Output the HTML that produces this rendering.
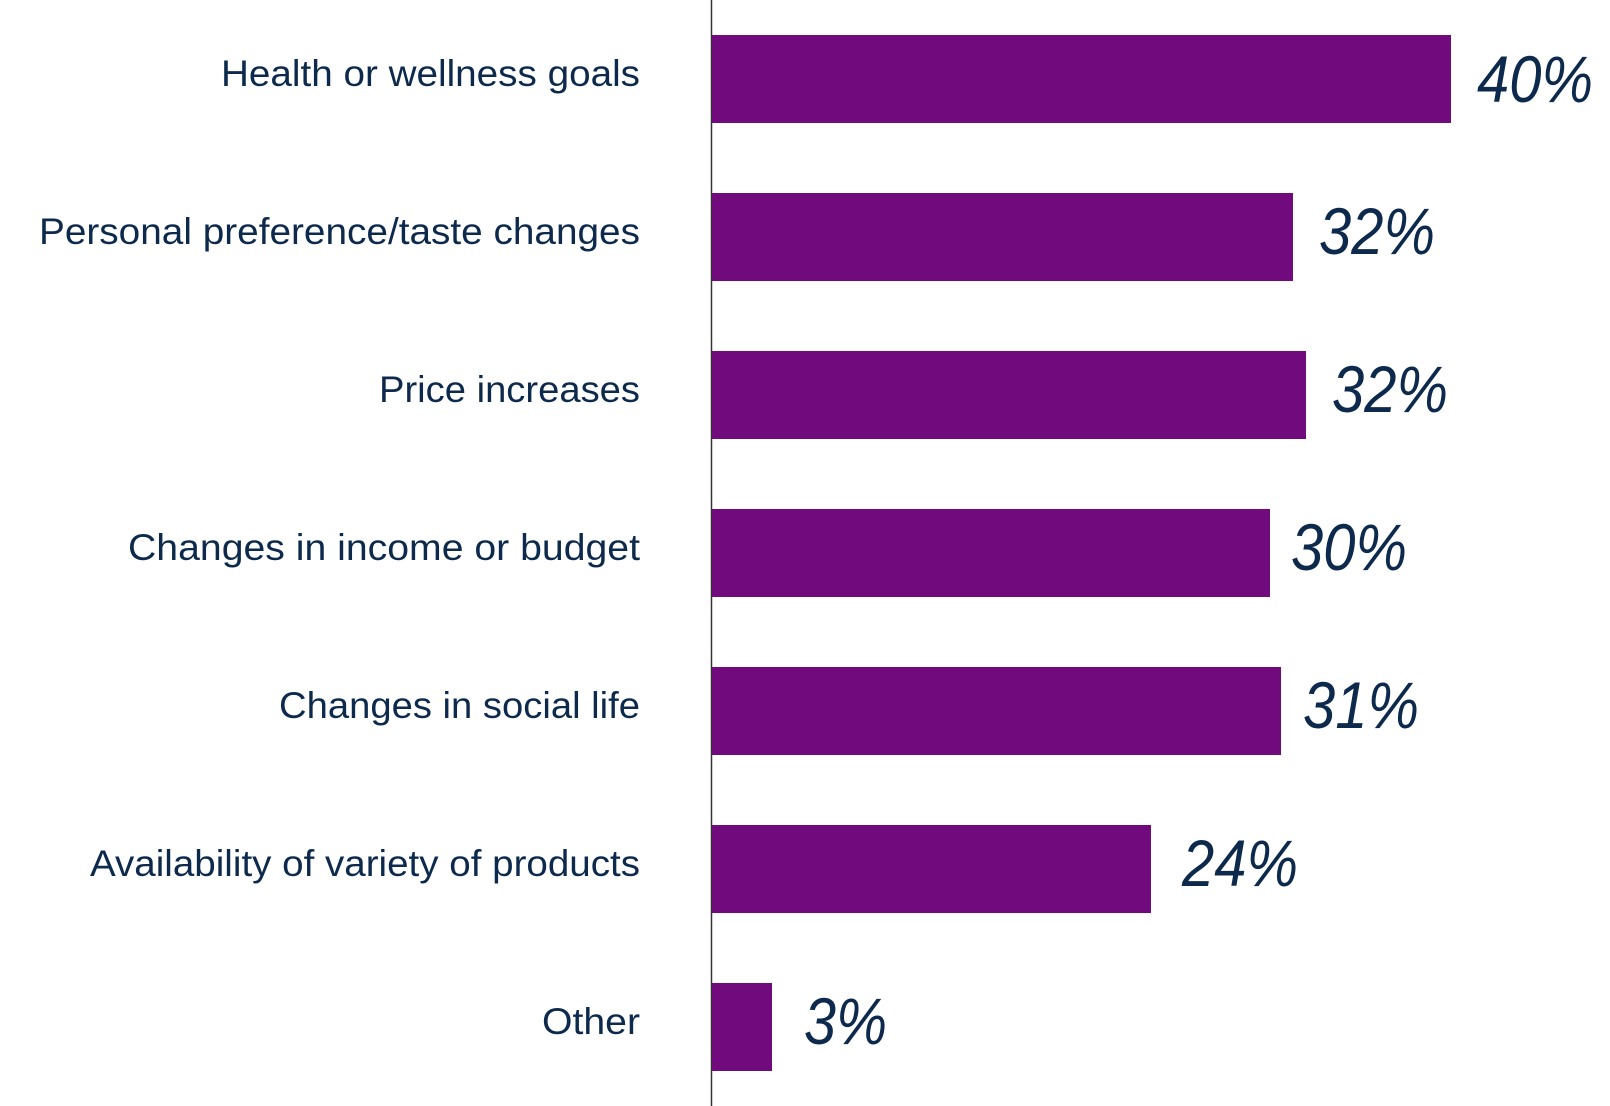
<!DOCTYPE html>
<html><head><meta charset="utf-8"><style>html,body{margin:0;padding:0;background:#fff;}svg{display:block}</style></head>
<body>
<svg width="1610" height="1106" xmlns="http://www.w3.org/2000/svg" font-family="Liberation Sans, sans-serif">
<rect width="1610" height="1106" fill="#fff"/>
<line x1="711.5" y1="0" x2="711.5" y2="1106" stroke="#333" stroke-width="1.5"/>
<g fill="#710a7c">
<rect x="712" y="35" width="739" height="88"/>
<rect x="712" y="193" width="581" height="88"/>
<rect x="712" y="351" width="594" height="88"/>
<rect x="712" y="509" width="558" height="88"/>
<rect x="712" y="667" width="569" height="88"/>
<rect x="712" y="825" width="439" height="88"/>
<rect x="712" y="983" width="60" height="88"/>
</g>
<g fill="#0d2a4d" font-size="37" text-anchor="end">
<text x="640" y="86" textLength="419" lengthAdjust="spacingAndGlyphs">Health or wellness goals</text>
<text x="640" y="244" textLength="601" lengthAdjust="spacingAndGlyphs">Personal preference/taste changes</text>
<text x="640" y="402" textLength="261" lengthAdjust="spacingAndGlyphs">Price increases</text>
<text x="640" y="560" textLength="512" lengthAdjust="spacingAndGlyphs">Changes in income or budget</text>
<text x="640" y="718" textLength="361" lengthAdjust="spacingAndGlyphs">Changes in social life</text>
<text x="640" y="876" textLength="550" lengthAdjust="spacingAndGlyphs">Availability of variety of products</text>
<text x="640" y="1034" textLength="98" lengthAdjust="spacingAndGlyphs">Other</text>
</g>
<g fill="#0d2a4d" font-size="66" font-style="italic">
<text x="1477" y="102" textLength="116" lengthAdjust="spacingAndGlyphs">40%</text>
<text x="1319" y="254" textLength="116" lengthAdjust="spacingAndGlyphs">32%</text>
<text x="1332" y="412" textLength="116" lengthAdjust="spacingAndGlyphs">32%</text>
<text x="1291" y="570" textLength="116" lengthAdjust="spacingAndGlyphs">30%</text>
<text x="1303" y="728" textLength="116" lengthAdjust="spacingAndGlyphs">31%</text>
<text x="1182" y="886" textLength="116" lengthAdjust="spacingAndGlyphs">24%</text>
<text x="804" y="1044" textLength="83" lengthAdjust="spacingAndGlyphs">3%</text>
</g>
</svg>
</body></html>
